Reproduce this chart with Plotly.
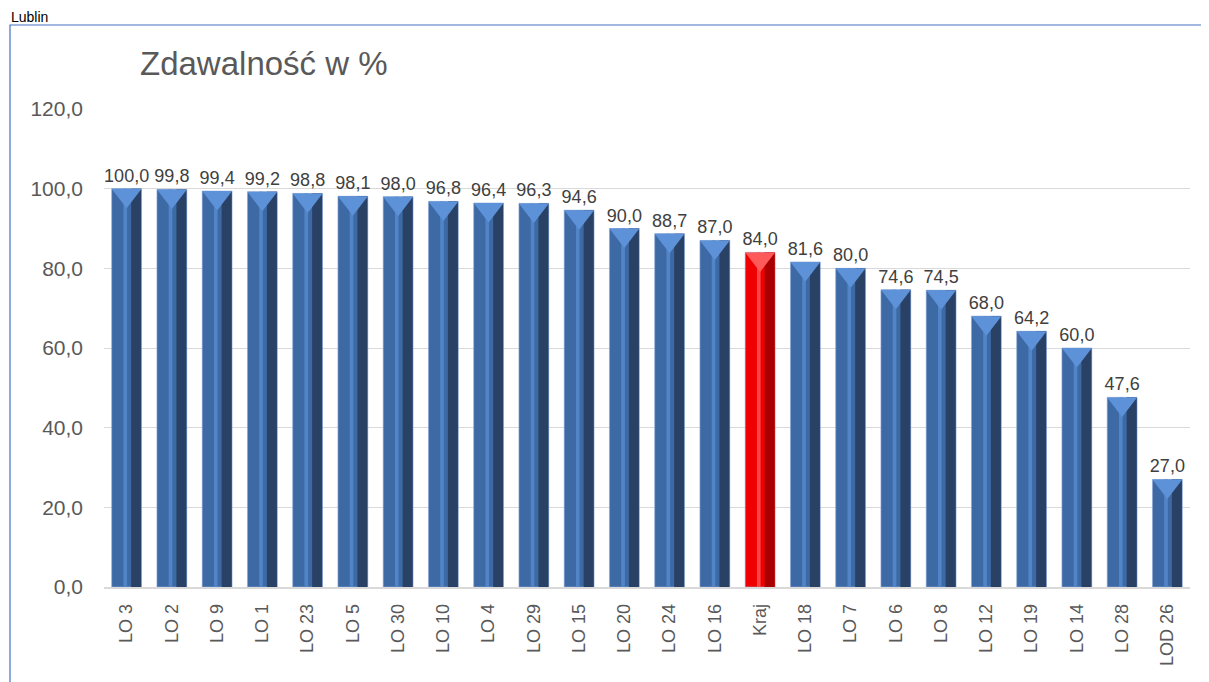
import plotly.graph_objects as go

szkoly = ["LO 3", "LO 2", "LO 9", "LO 1", "LO 23", "LO 5", "LO 30", "LO 10", "LO 4", "LO 29",
          "LO 15", "LO 20", "LO 24", "LO 16", "Kraj", "LO 18", "LO 7", "LO 6", "LO 8", "LO 12",
          "LO 19", "LO 14", "LO 28", "LOD 26"]
zdawalnosc = [100.0, 99.8, 99.4, 99.2, 98.8, 98.1, 98.0, 96.8, 96.4, 96.3,
              94.6, 90.0, 88.7, 87.0, 84.0, 81.6, 80.0, 74.6, 74.5, 68.0,
              64.2, 60.0, 47.6, 27.0]
tytul = "Zdawalność w %"
miasto = "Lublin"

# strona ma 8 px marginesu, wiec figura jest mniejsza o tyle
W, H = 1201, 674
L, R, T, B = 96, 19, 101, 95
pw, ph = W - L - R, H - T - B

czy_kraj = [s == "Kraj" for s in szkoly]
kol_baza = ["#F00000" if k else "#3D69A5" for k in czy_kraj]
kol_cien = ["#A80000" if k else "#2A4166" for k in czy_kraj]
kol_blask = ["#FF4545" if k else "#5185C8" for k in czy_kraj]
kol_szczyt = ["#FF5A5A" if k else "#5E92D8" for k in czy_kraj]
etykiety = [f"{v:.1f}".replace(".", ",") for v in zdawalnosc]

fig = go.Figure()
fig.add_trace(go.Bar(x=szkoly, y=zdawalnosc, width=0.66, offset=-0.33,
                     marker=dict(color=kol_baza, line=dict(width=0.6, color="#8FAADC")),
                     text=etykiety, textposition="outside", cliponaxis=False,
                     constraintext="none",
                     textfont=dict(size=18, color="#404040", family="Liberation Sans"),
                     hoverinfo="x+y"))
fig.add_trace(go.Bar(x=szkoly, y=zdawalnosc, width=0.22, offset=0.10,
                     marker=dict(color=kol_cien, line=dict(width=0)), hoverinfo="skip"))
fig.add_trace(go.Bar(x=szkoly, y=zdawalnosc, width=0.08, offset=-0.07,
                     marker=dict(color=kol_blask, line=dict(width=0)), hoverinfo="skip"))
fig.add_trace(go.Scatter(x=szkoly, y=zdawalnosc, mode="markers", cliponaxis=False,
                         marker=dict(symbol="triangle-down", size=26, color=kol_szczyt,
                                     angle=0, standoff=6.5, line=dict(width=0)),
                         hoverinfo="skip"))

fig.update_layout(
    width=W, height=H, barmode="overlay", showlegend=False,
    separators=", ",
    margin=dict(l=L, r=R, t=T, b=B, autoexpand=False),
    paper_bgcolor="white", plot_bgcolor="white",
    font=dict(family="Liberation Sans", color="#595959"),
    title=dict(text=tytul, x=132 / W, xanchor="left", y=1 - 55 / H, yanchor="middle",
               font=dict(size=33, color="#595959", family="Liberation Sans")),
    xaxis=dict(tickangle=-90, tickfont=dict(size=18, color="#595959"), showgrid=False,
               range=[-0.5, len(szkoly) - 0.5], automargin=False,
               showline=True, linecolor="#D9D9D9", linewidth=1.5, ticks="",
               ticklabelstandoff=8),
    yaxis=dict(range=[0, 120], dtick=20, tickformat=".1f", showgrid=True, automargin=False,
               gridcolor="#D9D9D9", gridwidth=1, zeroline=False,
               tickfont=dict(size=21, color="#595959"), ticks="", ticklabelstandoff=20),
    shapes=[dict(type="rect", xref="paper", yref="paper",
                 x0=(2 - L) / pw, x1=(W + 5 - L) / pw,
                 y0=-(B + 10) / ph, y1=(H - B - 17) / ph,
                 line=dict(color="#4472C4", width=1.2), layer="below")],
    annotations=[dict(text=miasto, xref="paper", yref="paper",
                      x=(2 - L) / pw, y=(H - B) / ph, xanchor="left", yanchor="top",
                      showarrow=False, borderpad=0,
                      font=dict(size=14, color="black", family="Liberation Sans"))],
)

fig.write_html("out.html")
